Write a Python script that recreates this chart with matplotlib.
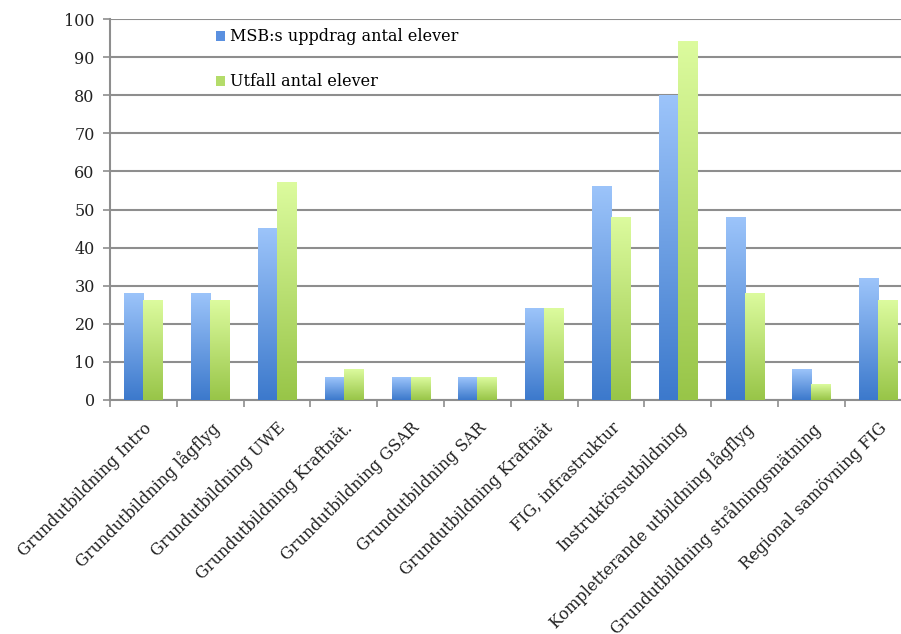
import matplotlib.pyplot as plt
import numpy as np
from matplotlib.colors import LinearSegmentedColormap
from matplotlib.patches import Patch

kurser = ["Grundutbildning Intro", "Grundutbildning lågflyg", "Grundutbildning UWE",
          "Grundutbildning Kraftnät.", "Grundutbildning GSAR", "Grundutbildning SAR",
          "Grundutbildning Kraftnät", "FIG, infrastruktur", "Instruktörsutbildning",
          "Kompletterande utbildning lågflyg", "Grundutbildning strålningsmätning",
          "Regional samövning FIG"]
uppdrag = [28, 28, 45, 6, 6, 6, 24, 56, 80, 48, 8, 32]
utfall = [26, 26, 57, 8, 6, 6, 24, 48, 94, 28, 4, 26]
serier = ["MSB:s uppdrag antal elever", "Utfall antal elever"]

plt.rcParams['font.family'] = ['DejaVu Serif']
grid_c = '#8e8e8e'

fig = plt.figure(figsize=(9.01, 6.34), dpi=100)
# högerkanten går utanför bilden
ax = fig.add_axes([110 / 901, 1 - 400 / 634, 801.6 / 901, 381 / 634])

x = np.arange(len(kurser))
w = 0.285
blue = LinearSegmentedColormap.from_list('b', ['#3c79cc', '#9cc4fa'])
green = LinearSegmentedColormap.from_list('g', ['#98c548', '#dcfb9e'])
grad = np.linspace(0, 1, 256).reshape(-1, 1)

b1 = ax.bar(x - w / 2, uppdrag, w, facecolor='none', edgecolor='none', zorder=3)
b2 = ax.bar(x + w / 2, utfall, w, facecolor='none', edgecolor='none', zorder=3)
for bars, cmap in ((b1, blue), (b2, green)):
    for r in bars:
        x0, y0 = r.get_x(), r.get_y()
        ax.imshow(grad, cmap=cmap, origin='lower', aspect='auto', zorder=3,
                  extent=(x0, x0 + r.get_width(), y0, y0 + r.get_height()),
                  interpolation='bilinear')

ax.set_xlim(-0.5, len(kurser) - 0.5)
ax.set_ylim(0, 100)
ax.set_yticks(range(0, 101, 10))
ax.yaxis.grid(True, color=grid_c, lw=1.5, zorder=0)
ax.set_axisbelow(True)

ax.set_xticks(x)
ax.set_xticklabels(kurser, rotation=45, ha='right', va='top', rotation_mode='anchor',
                   fontsize=11.5, color='#222222')
ax.set_xticks(np.arange(-0.5, len(kurser), 1), minor=True)
ax.tick_params(axis='x', which='major', length=0, pad=14)
ax.tick_params(axis='x', which='minor', length=5, width=1.2, color=grid_c)
ax.tick_params(axis='y', length=5, width=1.2, color=grid_c, labelsize=11.5,
               labelcolor='#222222', pad=6)

for s in ['top', 'right']:
    ax.spines[s].set_visible(False)
for s in ['left', 'bottom']:
    ax.spines[s].set_color(grid_c)
    ax.spines[s].set_linewidth(1.5)

handles = [Patch(facecolor='#5a90e0'), Patch(facecolor='#b4dc6a')]
fig.legend(handles, serier, loc='upper left', bbox_to_anchor=(210 / 901, 1 - 22 / 634),
           frameon=False, fontsize=11.5, handlelength=0.55, handleheight=0.55,
           handletextpad=0.3, labelspacing=1.75, borderaxespad=0)

fig.savefig('out.png', dpi=100)
